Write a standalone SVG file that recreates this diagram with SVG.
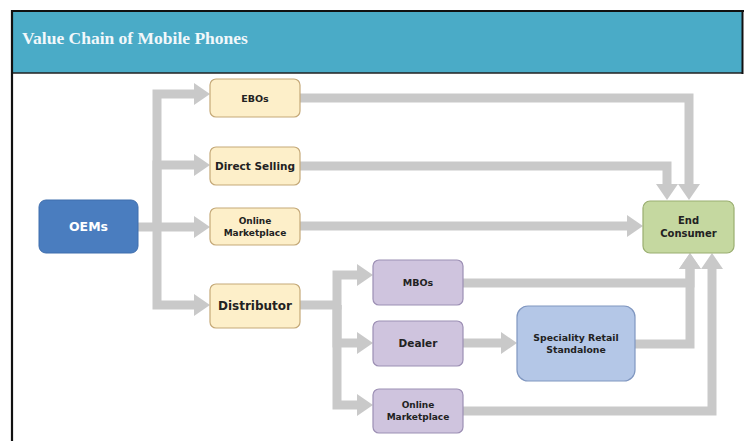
<svg xmlns="http://www.w3.org/2000/svg" width="744" height="441" viewBox="0 0 744 441">
<style>
.conn{fill:none;stroke:#c9c9c9;stroke-width:9;stroke-linejoin:miter}
.t{font-family:"DejaVu Sans","Liberation Sans",sans-serif;font-weight:bold;fill:#222;text-anchor:middle}
.cream{fill:#fdefc9;stroke:#c5a978;stroke-width:1.2}
.purple{fill:#cfc4de;stroke:#9c8fb4;stroke-width:1.2}
</style>
<defs>
<marker id="ah" markerUnits="userSpaceOnUse" markerWidth="16" markerHeight="22" refX="0" refY="11" orient="auto">
<path d="M0,0 L16,11 L0,22 Z" fill="#c9c9c9"/>
</marker>
</defs>
<rect x="0" y="0" width="744" height="441" fill="#ffffff"/>
<g id="frame">
<rect x="12" y="11" width="730" height="62" fill="#4aabc7"/>
<line x1="11" y1="11" x2="744" y2="11" stroke="#111" stroke-width="2"/>
<line x1="12" y1="73" x2="742" y2="73" stroke="#222" stroke-width="1.5"/>
<line x1="742.5" y1="10" x2="742.5" y2="74" stroke="#111" stroke-width="2"/>
<line x1="12" y1="10" x2="12" y2="441" stroke="#111" stroke-width="2.2"/>
<text x="22" y="43.5" font-family="'Liberation Serif',serif" font-weight="bold" font-size="17.5" fill="#f2f8fb">Value Chain of Mobile Phones</text>
</g>
<g id="connectors">
<path class="conn" d="M138,227 H194" marker-end="url(#ah)"/>
<path class="conn" d="M157,227 V94 H194" marker-end="url(#ah)"/>
<path class="conn" d="M157,227 V165 H194" marker-end="url(#ah)"/>
<path class="conn" d="M157,227 V305 H194" marker-end="url(#ah)"/>
<path class="conn" d="M300,98 H689 V184" marker-end="url(#ah)"/>
<path class="conn" d="M300,166 H667 V184" marker-end="url(#ah)"/>
<path class="conn" d="M300,226 H627" marker-end="url(#ah)"/>
<path class="conn" d="M300,305 H337 V275 H357" marker-end="url(#ah)"/>
<path class="conn" d="M337,305 V343 H357" marker-end="url(#ah)"/>
<path class="conn" d="M337,305 V405 H357" marker-end="url(#ah)"/>
<path class="conn" d="M463,283 H690 V269" marker-end="url(#ah)"/>
<path class="conn" d="M635,344 H690 V269" marker-end="url(#ah)"/>
<path class="conn" d="M463,343 H501" marker-end="url(#ah)"/>
<path class="conn" d="M463,411 H712 V269" marker-end="url(#ah)"/>
</g>
<g id="oems">
<rect x="39" y="200" width="99" height="53" rx="7" fill="#4a7dbf" stroke="#3f6ead" stroke-width="1"/>
<text class="t" x="88.5" y="231" font-size="12.5" style="fill:#ffffff">OEMs</text>
</g>
<g id="ebos">
<rect class="cream" x="210" y="79" width="90" height="38" rx="6"/>
<text class="t" x="255" y="102" font-size="9.5">EBOs</text>
</g>
<g id="direct-selling">
<rect class="cream" x="210" y="147" width="90" height="38" rx="6"/>
<text class="t" x="255" y="170" font-size="10.5">Direct Selling</text>
</g>
<g id="online-marketplace-1">
<rect class="cream" x="210" y="208" width="90" height="37" rx="6"/>
<text class="t" x="255" y="223.5" font-size="9">Online</text>
<text class="t" x="255" y="235.5" font-size="9">Marketplace</text>
</g>
<g id="distributor">
<rect class="cream" x="210" y="284" width="90" height="44" rx="6"/>
<text class="t" x="255" y="310" font-size="12">Distributor</text>
</g>
<g id="end-consumer">
<rect x="643" y="201" width="91" height="52" rx="7" fill="#c5d8a0" stroke="#9aae70" stroke-width="1.2"/>
<text class="t" x="688.5" y="224" font-size="10">End</text>
<text class="t" x="688.5" y="237" font-size="10">Consumer</text>
</g>
<g id="mbos">
<rect class="purple" x="373" y="260" width="90" height="45" rx="6"/>
<text class="t" x="418" y="286" font-size="9.5">MBOs</text>
</g>
<g id="dealer">
<rect class="purple" x="373" y="321" width="90" height="45" rx="6"/>
<text class="t" x="418" y="347" font-size="10.5">Dealer</text>
</g>
<g id="online-marketplace-2">
<rect class="purple" x="373" y="389" width="90" height="44" rx="6"/>
<text class="t" x="418" y="408" font-size="9">Online</text>
<text class="t" x="418" y="420" font-size="9">Marketplace</text>
</g>
<g id="speciality-retail">
<rect x="517" y="306" width="118" height="75" rx="11" fill="#b4c7e7" stroke="#8097c0" stroke-width="1.2"/>
<text class="t" x="576" y="341" font-size="9.3">Speciality Retail</text>
<text class="t" x="576" y="353" font-size="9.3">Standalone</text>
</g>
</svg>
